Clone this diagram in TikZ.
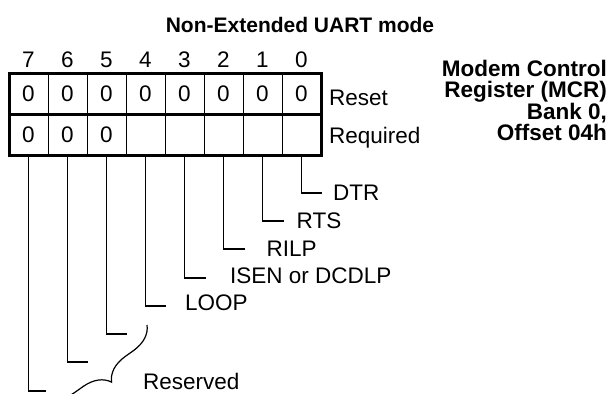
\documentclass[tikz,border=0pt]{standalone}
\usepackage{fontspec}
\setmainfont{Liberation Sans}
\usetikzlibrary{positioning,decorations.pathreplacing}

\begin{document}
\begin{tikzpicture}[
  x=1pt, y=-1pt,
  cell/.style={
    draw, line width=1pt, minimum width=39pt, minimum height=41pt,
    inner sep=0pt, outer sep=0pt, font=\fontsize{22.5}{22}\selectfont
  },
  bitnum/.style={inner sep=2pt, font=\fontsize{22.5}{22}\selectfont},
  lbl/.style={inner sep=2pt, font=\fontsize{22.5}{22}\selectfont},
  hdr/.style={inner sep=0pt, font=\fontsize{21}{21}\selectfont\bfseries},
  regname/.style={
    inner sep=0pt, align=right,
    font=\fontsize{22.5}{21}\selectfont\bfseries
  },
  lead/.style={line width=1.2pt},
  regframe/.style={line width=3pt},
]
\useasboundingbox (0,0) rectangle (606,394);

\node[hdr] (title) at (300,25) {Non-Extended UART mode};
\node[regname,anchor=north east] (mcr) at (607,60)
  {Modem Control\\Register (MCR)\\Bank 0,\\Offset 04h};

% reset row
\node[cell] (c7) at (28.5,93.5) {0};
\node[cell,right=0pt of c7] (c6) {0};
\node[cell,right=0pt of c6] (c5) {0};
\node[cell,right=0pt of c5] (c4) {0};
\node[cell,right=0pt of c4] (c3) {0};
\node[cell,right=0pt of c3] (c2) {0};
\node[cell,right=0pt of c2] (c1) {0};
\node[cell,right=0pt of c1] (c0) {0};
% required row
\node[cell,below=0pt of c7] (r7) {0};
\node[cell,right=0pt of r7] (r6) {0};
\node[cell,right=0pt of r6] (r5) {0};
\node[cell,right=0pt of r5] (r4) {};
\node[cell,right=0pt of r4] (r3) {};
\node[cell,right=0pt of r3] (r2) {};
\node[cell,right=0pt of r2] (r1) {};
\node[cell,right=0pt of r1] (r0) {};

\draw[regframe] (c7.north west) rectangle (r0.south east);
\draw[regframe] (r7.north west) -- (r0.north east);

% bit numbers
\node[bitnum,above=3pt of c7] (b7) {7};
\node[bitnum,above=3pt of c6] (b6) {6};
\node[bitnum,above=3pt of c5] (b5) {5};
\node[bitnum,above=3pt of c4] (b4) {4};
\node[bitnum,above=3pt of c3] (b3) {3};
\node[bitnum,above=3pt of c2] (b2) {2};
\node[bitnum,above=3pt of c1] (b1) {1};
\node[bitnum,above=3pt of c0] (b0) {0};

\node[lbl,right=6pt of c0,yshift=-4pt] (reset) {Reset};
\node[lbl,right=6pt of r0,yshift=-3pt] (req) {Required};

% leaders
\coordinate (e0) at (322,193);
\coordinate (e1) at (284,221);
\coordinate (e2) at (245,249);
\coordinate (e3) at (206,278);
\coordinate (e4) at (166,306);
\coordinate (e5) at (127,334);
\coordinate (e6) at (88,362);
\coordinate (e7) at (46,391);
\draw[lead] (r0.south) |- (e0);
\draw[lead] (r1.south) |- (e1);
\draw[lead] (r2.south) |- (e2);
\draw[lead] (r3.south) |- (e3);
\draw[lead] (r4.south) |- (e4);
\draw[lead] (r5.south) |- (e5);
\draw[lead] (r6.south) |- (e6);
\draw[lead] (r7.south) |- (e7);

\node[lbl,right=9pt of e0] (dtr) {DTR};
\node[lbl,right=10.5pt of e1] (rts) {RTS};
\node[lbl,right=19.5pt of e2] (rilp) {RILP};
\node[lbl,right=22pt of e3,yshift=2pt] (isen) {ISEN or DCDLP};
\node[lbl,right=17pt of e4,yshift=3pt] (loop) {LOOP};

% reserved bits
\coordinate (bt) at (147,325);
\coordinate (bb) at (46,397);
\draw[lead,decorate,decoration={brace,amplitude=26pt}] (bt) -- (bb);
\node[lbl,anchor=west] (resv) at (141,381) {Reserved};
\end{tikzpicture}
\end{document}
